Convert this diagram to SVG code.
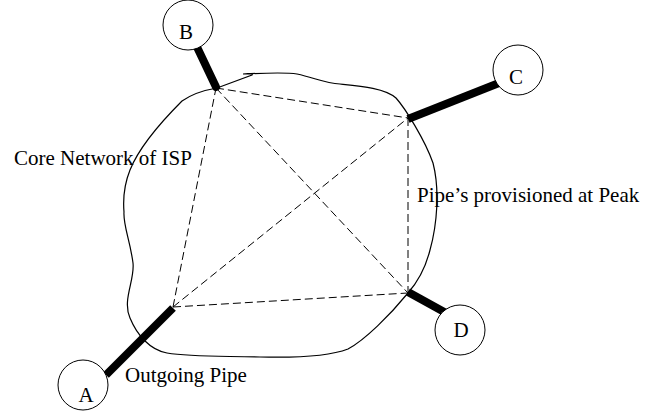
<svg xmlns="http://www.w3.org/2000/svg" width="670" height="412" viewBox="0 0 670 412">
  <style>
    .label { font-family: "Liberation Serif", "Times New Roman", serif; font-size: 21px; fill: #000; }
    .node-letter { font-family: "Liberation Serif", "Times New Roman", serif; font-size: 21px; fill: #000; text-anchor: middle; }
    .ring { fill: #fff; stroke: #000; stroke-width: 1; }
    .pipe { stroke: #000; stroke-width: 8; fill: none; }
    .mesh { stroke: #000; stroke-width: 1; stroke-dasharray: 8 4; fill: none; }
    .cloud { fill: none; stroke: #000; stroke-width: 1.2; }
  </style>

  <!-- ISP core cloud outline -->
  <path id="core-cloud" class="cloud" d="M 217,88 L 252,75 Q 254,73 243,74 C 265,73 285,72 297,74 C 315,78 325,83 340,84 C 360,86 385,88 396,98 C 405,108 425,140 433,163 C 440,190 437,225 430,250 C 425,270 415,285 408,293 C 390,315 365,340 348,349 C 330,356 300,358 260,357 C 220,356 190,357 167,353 C 150,350 137,335 130,318 C 122,300 135,280 133,263 C 130,240 123,225 124,212 C 123,200 124,185 130,170 C 140,145 165,118 182,101 C 192,94 205,90 217,88 Z"/>

  <!-- Connectors: provisioned mesh and access pipes -->
  <g id="connectors">
    <line class="mesh" x1="173" y1="307" x2="216" y2="88"/>
    <line class="mesh" x1="173" y1="307" x2="408" y2="118"/>
    <line class="mesh" x1="173" y1="307" x2="408" y2="293"/>
    <line class="mesh" x1="216" y1="88" x2="408" y2="118"/>
    <line class="mesh" x1="216" y1="88" x2="408" y2="293"/>
    <line class="mesh" x1="408" y1="118" x2="408" y2="293"/>

    <line class="pipe" x1="197" y1="47" x2="216" y2="87" stroke-linecap="round" stroke-width="7"/>
    <line class="pipe" x1="408" y1="119" x2="499" y2="83"/>
    <line class="pipe" x1="408" y1="292" x2="446" y2="313"/>
    <line class="pipe" x1="173" y1="308" x2="106" y2="375"/>
  </g>

  <g id="node-B">
    <circle class="ring" cx="188" cy="25" r="25"/>
    <text class="node-letter" x="186" y="39">B</text>
  </g>
  <g id="node-C">
    <circle class="ring" cx="518" cy="70" r="25"/>
    <text class="node-letter" x="516" y="84">C</text>
  </g>
  <g id="node-D">
    <circle class="ring" cx="460" cy="330" r="25"/>
    <text class="node-letter" x="461" y="337">D</text>
  </g>
  <g id="node-A">
    <circle class="ring" cx="83" cy="385" r="25"/>
    <text class="node-letter" x="86" y="402">A</text>
  </g>

  <g id="labels">
    <text class="label" x="14" y="165">Core Network of ISP</text>
    <text class="label" x="417" y="202">Pipe’s provisioned at Peak</text>
    <text class="label" x="125" y="382">Outgoing Pipe</text>
  </g>
</svg>
